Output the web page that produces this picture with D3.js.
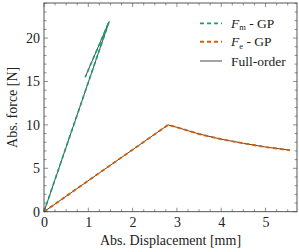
<!DOCTYPE html>
<html><head><meta charset="utf-8">
<script src="https://cdn.jsdelivr.net/npm/d3@7"></script>
<style>
html,body{margin:0;padding:0;background:#fff;}
text{font-family:"Liberation Serif","Times New Roman",serif;fill:#222;}
</style></head>
<body>
<svg id="c" width="299" height="252"></svg>
<script>
// Data
const fmDisp  = [0, 1.47, 0.93];
const fmForce = [0, 21.9, 15.5];
const feDisp  = [0, 2.8, 3.0, 3.5, 4.0, 4.5, 5.0, 5.55];
const feForce = [0, 10.0, 9.72, 8.95, 8.35, 7.88, 7.45, 7.08];
const xTicks = [0, 1, 2, 3, 4, 5];
const yTicks = [0, 5, 10, 15, 20];
const seriesNames = ["F_m - GP", "F_e - GP", "Full-order"];

const svg = d3.select("#c");
const L = 44, R = 297, T = 3, B = 211.7;
const x = d3.scaleLinear().domain([0, 5.71]).range([L, R]);
const y = d3.scaleLinear().domain([0, 24.04]).range([B, T]);

const frame = "#444";
// minor ticks
const xMinor = d3.range(0, 5.71, 0.25);
const yMinor = d3.range(0, 24.01, 1);
const g = svg.append("g");
xMinor.forEach(v => {
  const len = xTicks.includes(v) ? 4 : 2.5;
  g.append("line").attr("x1", x(v)).attr("x2", x(v)).attr("y1", B).attr("y2", B - len).attr("stroke", frame).attr("stroke-width", 0.6);
  g.append("line").attr("x1", x(v)).attr("x2", x(v)).attr("y1", T).attr("y2", T + len).attr("stroke", frame).attr("stroke-width", 0.6);
});
yMinor.forEach(v => {
  const len = yTicks.includes(v) ? 4 : 2.5;
  g.append("line").attr("y1", y(v)).attr("y2", y(v)).attr("x1", L).attr("x2", L + len).attr("stroke", frame).attr("stroke-width", 0.6);
  g.append("line").attr("y1", y(v)).attr("y2", y(v)).attr("x1", R).attr("x2", R - len).attr("stroke", frame).attr("stroke-width", 0.6);
});

// axes labels via d3 axes
const xa = svg.append("g").attr("transform", `translate(0,${B})`)
  .call(d3.axisBottom(x).tickValues(xTicks).tickSize(0).tickPadding(5).tickFormat(d3.format("d")));
const ya = svg.append("g").attr("transform", `translate(${L},0)`)
  .call(d3.axisLeft(y).tickValues(yTicks).tickSize(0).tickPadding(4).tickFormat(d3.format("d")));
[xa, ya].forEach(a => {
  a.select(".domain").remove();
  a.selectAll("text").style("font-family", '"Liberation Serif",serif').style("font-size", "14px").attr("fill", "#222");
});

// lines
const line = d3.line().x(d => x(d[0])).y(d => y(d[1]));
const fm = fmDisp.map((d, i) => [d, fmForce[i]]);
const fe = feDisp.map((d, i) => [d, feForce[i]]);
const plot = svg.append("g");
[fm, fe].forEach(dat => plot.append("path").datum(dat).attr("d", line)
  .attr("fill", "none").attr("stroke", "#333").attr("stroke-width", 0.9));
plot.append("path").datum(fm).attr("d", line).attr("fill", "none")
  .attr("stroke", "#1b9e77").attr("stroke-width", 1.7).attr("stroke-dasharray", "4,3");
plot.append("path").datum(fe).attr("d", line).attr("fill", "none")
  .attr("stroke", "#d95f02").attr("stroke-width", 1.9).attr("stroke-dasharray", "4,3");

// frame
svg.append("rect").attr("x", L).attr("y", T).attr("width", R - L).attr("height", B - T)
  .attr("fill", "none").attr("stroke", frame).attr("stroke-width", 0.9);

// axis titles
svg.append("text").attr("x", (L + R) / 2).attr("y", 245).attr("text-anchor", "middle")
  .style("font-size", "14px").text("Abs. Displacement [mm]");
svg.append("text").attr("transform", `translate(17,${(T + B) / 2}) rotate(-90)`).attr("text-anchor", "middle")
  .style("font-size", "14px").text("Abs. force [N]");

// legend
const leg = svg.append("g");
const items = [
  {c: "#1b9e77", dash: "4,3", w: 1.7, main: "F", sub: "m", rest: " - GP", y: 23.3},
  {c: "#d95f02", dash: "4,3", w: 1.9, main: "F", sub: "e", rest: " - GP", y: 41.7},
  {c: "#333", dash: null, w: 0.9, main: "Full-order", sub: null, rest: "", y: 61}
];
items.forEach(it => {
  const ln = leg.append("line").attr("x1", 200).attr("x2", 222).attr("y1", it.y).attr("y2", it.y)
    .attr("stroke", it.c).attr("stroke-width", it.w);
  if (it.dash) ln.attr("stroke-dasharray", it.dash);
  const t = leg.append("text").attr("x", 231).attr("y", it.y + 4.5).style("font-size", "13.5px");
  if (it.sub) {
    t.append("tspan").style("font-style", "italic").text(it.main);
    t.append("tspan").attr("dy", 2.5).style("font-size", "8.5px").text(it.sub);
    t.append("tspan").attr("dy", -2.5).text(it.rest);
  } else {
    t.text(it.main);
  }
});
</script>
</body></html>
